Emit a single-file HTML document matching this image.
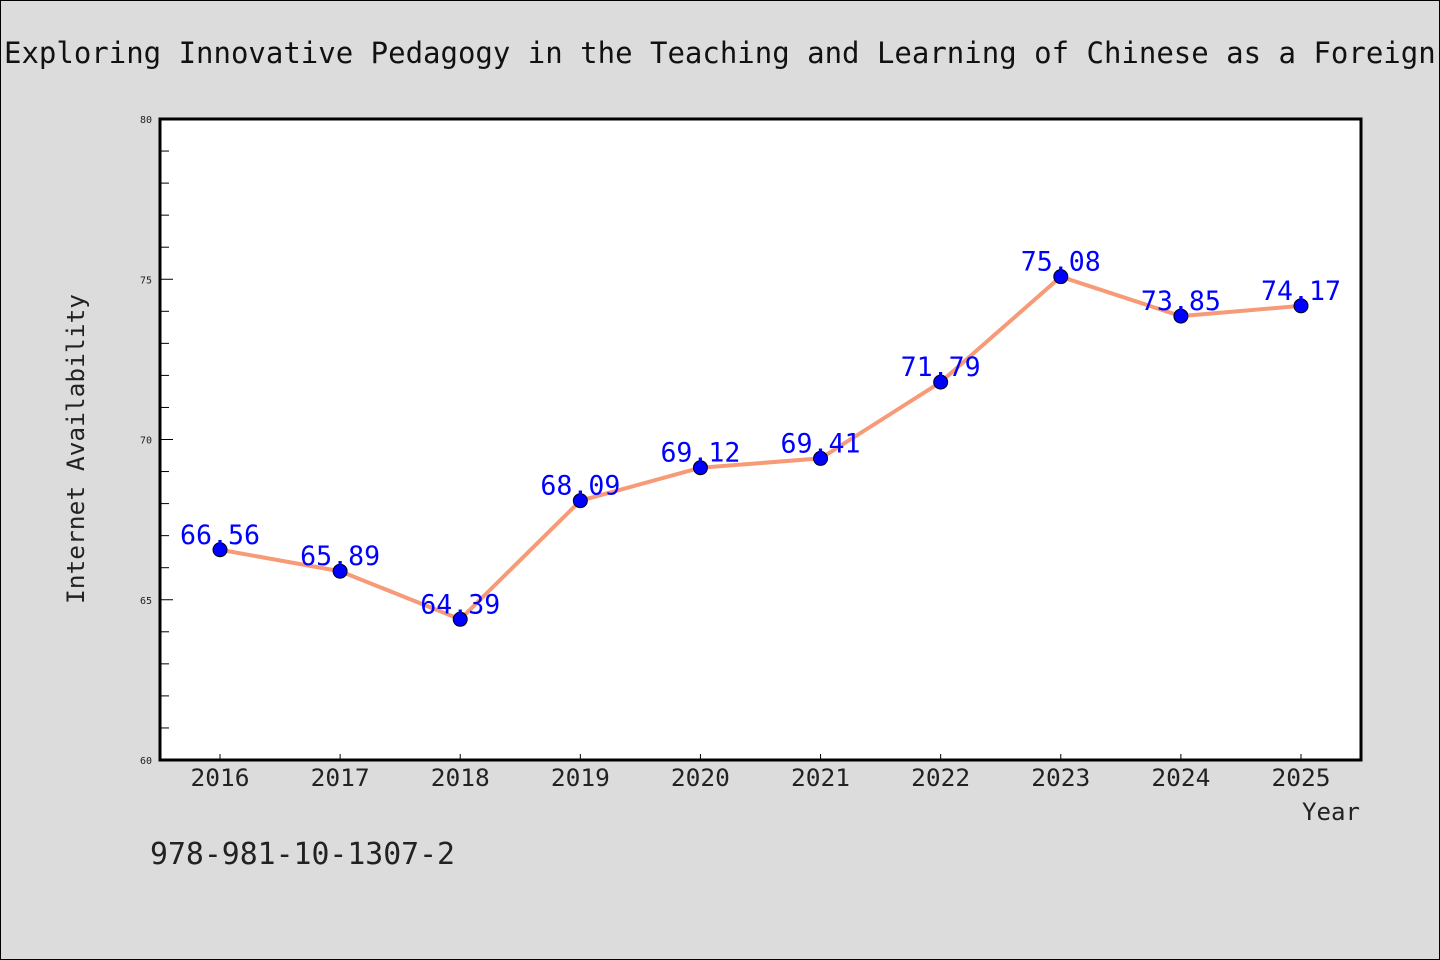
<!DOCTYPE html>
<html><head><meta charset="utf-8"><style>
html,body{margin:0;padding:0;background:#dcdcdc;}
svg{display:block;font-family:"WenQuanYi Zen Hei Mono","DejaVu Sans Mono","Liberation Mono",monospace;}
</style></head><body>
<svg id="chart" width="1440" height="960">
<rect x="0.5" y="0.5" width="1439" height="959" fill="#dcdcdc" stroke="#000"/>
<text x="4" y="63" font-size="29" fill="#111">Exploring Innovative Pedagogy in the Teaching and Learning of Chinese as a Foreign Language</text>
<rect x="160" y="119" width="1201" height="641" fill="#fff"/>
<g id="ticks"></g>
<g id="series"></g>
<rect x="160" y="119" width="1201" height="641" fill="none" stroke="#000" stroke-width="3"/>
<text x="84" y="449" font-size="24" fill="#222" text-anchor="middle" textLength="310" lengthAdjust="spacingAndGlyphs" transform="rotate(-90 84 449)">Internet Availability</text>
<text x="1302" y="820" font-size="24" fill="#222" textLength="58" lengthAdjust="spacingAndGlyphs">Year</text>
<text x="150" y="864" font-size="30" fill="#222" textLength="305" lengthAdjust="spacingAndGlyphs">978-981-10-1307-2</text>
</svg>
<script>
const years = ["2016","2017","2018","2019","2020","2021","2022","2023","2024","2025"];
const values = [66.56,65.89,64.39,68.09,69.12,69.41,71.79,75.08,73.85,74.17];
const valueLabels = ["66.56","65.89","64.39","68.09","69.12","69.41","71.79","75.08","73.85","74.17"];
const yTicks = [60,65,70,75,80];
const ns="http://www.w3.org/2000/svg";
const L=160,R=1361,T=119,B=760,ymin=60,ymax=80;
const xs=i=>L+60+i*(R-L-120)/(years.length-1);
const ys=v=>B-(v-ymin)/(ymax-ymin)*(B-T);
function mk(t,a,p){const e=document.createElementNS(ns,t);for(const k in a)e.setAttribute(k,a[k]);p.appendChild(e);return e;}
const tg=document.getElementById('ticks'), sg=document.getElementById('series');
for(let v=ymin;v<=ymax;v++){
  const major=yTicks.includes(v);
  const l=mk('line',{x1:L,x2:L+(major?13:9),y1:ys(v),y2:ys(v),stroke:'#000','stroke-width':1},tg);
  
  
}
yTicks.forEach(v=>{
  const t=mk('text',{x:L-8,y:ys(v)+4,'font-size':10,'text-anchor':'end',fill:'#222'},tg);
  t.textContent=v;
  
  
});
years.forEach((y,i)=>{
  const l=mk('line',{x1:xs(i),x2:xs(i),y1:B,y2:B-6,stroke:'#000','stroke-width':1},tg);
  
  
  const t=mk('text',{x:xs(i),y:B+26,'font-size':24,'text-anchor':'middle',fill:'#222',textLength:59,lengthAdjust:'spacingAndGlyphs'},tg);
  t.textContent=y;
  
  
});
const pl=mk('polyline',{points:values.map((v,i)=>xs(i)+','+ys(v)).join(' '),fill:'none',stroke:'#f79a78','stroke-width':4,'stroke-linejoin':'round'},sg);


values.forEach((v,i)=>{
  const c=mk('circle',{cx:xs(i),cy:ys(v),r:7,fill:'#0000ff',stroke:'#000','stroke-width':1},sg);
  
  
  const t=mk('text',{x:xs(i),y:ys(v)-6,'font-size':27,'text-anchor':'middle',fill:'#0000ff',textLength:80,lengthAdjust:'spacingAndGlyphs'},sg);
  t.textContent=valueLabels[i];
  
  
});
</script>
</body></html>
